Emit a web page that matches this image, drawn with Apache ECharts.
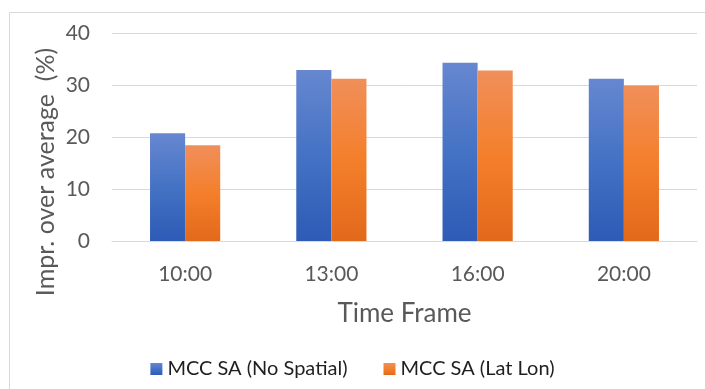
<!DOCTYPE html>
<html>
<head>
<meta charset="utf-8">
<script src="https://cdn.jsdelivr.net/npm/echarts@6/dist/echarts.min.js"></script>
<style>
  html, body { margin: 0; padding: 0; background: #fff; }
  #chart { width: 705px; height: 389px; }
</style>
</head>
<body>
<div id="chart"></div>
<script>
// Improvement over average per time frame, two model variants
const timeFrames = ['10:00', '13:00', '16:00', '20:00'];
const noSpatial = [20.7, 32.9, 34.3, 31.2];
const latLon = [18.4, 31.2, 32.8, 29.9];
const seriesNames = ['MCC SA (No Spatial)', 'MCC SA (Lat Lon)'];
const yTitle = 'Impr. over average  (%)';
const xTitle = 'Time Frame';

const FONT = 'Lato, "Open Sans", sans-serif';

function vGrad(top, mid, bottom) {
  return new echarts.graphic.LinearGradient(0, 0, 0, 1, [
    { offset: 0, color: top },
    { offset: 0.5, color: mid },
    { offset: 1, color: bottom }
  ]);
}

const chart = echarts.init(document.getElementById('chart'), null, { renderer: 'canvas' });

chart.setOption({
  animation: false,
  backgroundColor: '#ffffff',
  grid: { left: 112, right: 8, top: 33, bottom: 148 },
  legend: {
    data: seriesNames,
    bottom: 5,
    left: 'center',
    itemWidth: 12,
    itemHeight: 12,
    itemGap: 36,
    icon: 'rect',
    textStyle: { fontFamily: FONT, fontSize: 20, color: '#1f1f1f' }
  },
  xAxis: {
    type: 'category',
    data: timeFrames,
    axisLine: { show: true, lineStyle: { color: '#d9d9d9', width: 1 } },
    axisTick: { show: false },
    axisLabel: { margin: 23, fontFamily: FONT, fontSize: 21, color: '#595959' },
    name: xTitle,
    nameLocation: 'middle',
    nameGap: 60,
    nameTextStyle: { fontFamily: FONT, fontSize: 26, color: '#595959' }
  },
  yAxis: {
    type: 'value',
    min: 0,
    max: 40,
    interval: 10,
    axisLine: { show: false },
    axisTick: { show: false },
    splitLine: { lineStyle: { color: '#d9d9d9', width: 1 } },
    axisLabel: { margin: 22, fontFamily: FONT, fontSize: 21, color: '#595959' }
  },
  graphic: [
    {
      type: 'rect',
      silent: true,
      shape: { x: 9.5, y: 12.5, width: 700, height: 390 },
      style: { fill: 'none', stroke: '#d9d9d9', lineWidth: 1 }
    },
    {
      type: 'text',
      x: 46,
      y: 172,
      rotation: Math.PI / 2,
      style: {
        text: yTitle,
        fontFamily: FONT,
        fontSize: 25,
        fill: '#595959',
        align: 'center',
        verticalAlign: 'middle'
      }
    }
  ],
  series: [
    {
      name: seriesNames[0],
      type: 'bar',
      data: noSpatial,
      barGap: '0%',
      barCategoryGap: '52%',
      itemStyle: { color: vGrad('#6787d0', '#4472c4', '#2d5bb6') }
    },
    {
      name: seriesNames[1],
      type: 'bar',
      data: latLon,
      itemStyle: { color: vGrad('#f08f5a', '#f47f2b', '#e2691b') }
    }
  ]
});
</script>
</body>
</html>
